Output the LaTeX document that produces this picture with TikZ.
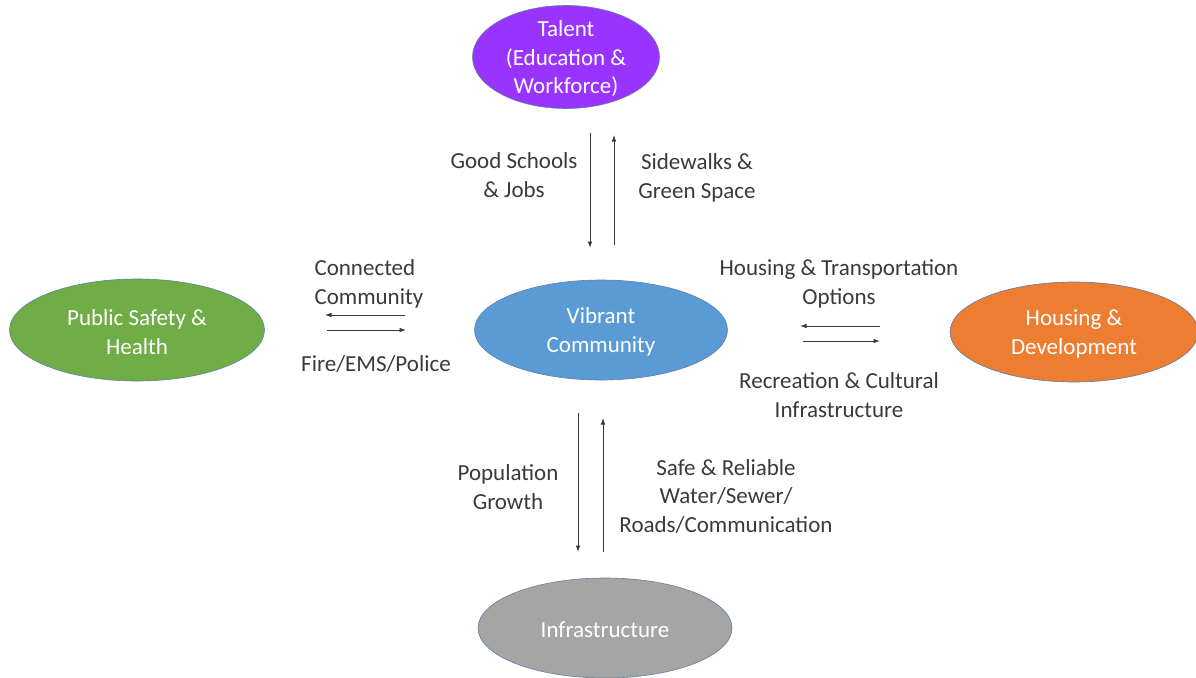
\documentclass[tikz,border=0pt]{standalone}
\usepackage{fontspec}
\setmainfont{Carlito}
\usepackage{tikz}
\usetikzlibrary{shapes.geometric, arrows.meta}
\definecolor{talentc}{HTML}{9933FF}
\definecolor{safetyc}{HTML}{70AD47}
\definecolor{vibrantc}{HTML}{5B9BD5}
\definecolor{housingc}{HTML}{ED7D31}
\definecolor{infrac}{HTML}{A5A5A5}
\definecolor{outlinec}{HTML}{5E7FA6}
\definecolor{labelc}{HTML}{3A3A3A}
\tikzstyle{hub} = [ellipse, draw=outlinec, line width=0.6pt, inner sep=0pt,
                 minimum width=253pt, minimum height=100pt]
\tikzset{
	hubtext/.style={text=white, align=center, yshift=-2pt, font=\fontsize{23}{28.5}\selectfont},
	lbl/.style={text=labelc, align=center, font=\fontsize{23}{28.5}\selectfont},
	link/.style={draw=labelc, line width=0.8pt, -{Latex[length=6.5pt,width=4.5pt]}},
}

\begin{document}
\begin{tikzpicture}[x=1pt,y=-1pt]
\useasboundingbox (0,0) rectangle (1196,677);

% ellipses
\node [hub, fill=talentc, minimum width=187pt, minimum height=103pt] (talent) at (566,57) {};
\node [hub, fill=safetyc, minimum width=255pt, minimum height=102pt] (safety) at (137,330) {};
\node [hub, fill=vibrantc] (vibrant) at (601,330) {};
\node [hub, fill=housingc, minimum width=248pt] (housing) at (1074,332) {};
\node [hub, fill=infrac, minimum width=254pt] (infra) at (605,628) {};

\node [hubtext] (talent text) at (talent) {Talent\\(Education \&\\Workforce)};
\node [hubtext] (safety text) at (safety) {Public Safety \&\\Health};
\node [hubtext] (vibrant text) at (vibrant) {Vibrant\\Community};
\node [hubtext] (housing text) at (housing) {Housing \&\\Development};
\node [hubtext] (infra text) at (infra) {Infrastructure};

% arrow ends
\coordinate (t1) at (590,133); \coordinate (t2) at (590,248);
\coordinate (t3) at (614,245); \coordinate (t4) at (614,135);
\coordinate (b1) at (578,413); \coordinate (b2) at (578,552);
\coordinate (b3) at (603,552); \coordinate (b4) at (603,418);
\coordinate (l1) at (405,315); \coordinate (l2) at (325,315);
\coordinate (l3) at (327,330); \coordinate (l4) at (406,330);
\coordinate (r1) at (880,326); \coordinate (r2) at (800,326);
\coordinate (r3) at (803,341); \coordinate (r4) at (880,341);

\foreach \from/\to in {t1/t2, t3/t4, b1/b2, b3/b4, l1/l2, l3/l4, r1/r2, r3/r4}
	\draw [link] (\from) -- (\to);

% labels
\node [lbl] (schools) at (514,175) {Good Schools\\\& Jobs};
\node [lbl] (sidewalks) at (697,178) {Sidewalks \&\\Green Space};
\node [lbl, align=left, anchor=west] (connected) at (311,284) {Connected\\Community};
\node [lbl] (fire) at (376,364) {Fire/EMS/Police};
\node [lbl] (transport) at (839,284) {Housing \& Transportation\\Options};
\node [lbl] (recreation) at (839,395) {Recreation \& Cultural\\Infrastructure};
\node [lbl] (population) at (508,487) {Population\\Growth};
\node [lbl] (reliable) at (726,496) {Safe \& Reliable\\Water/Sewer/\\Roads/Communication};

\end{tikzpicture}
\end{document}
